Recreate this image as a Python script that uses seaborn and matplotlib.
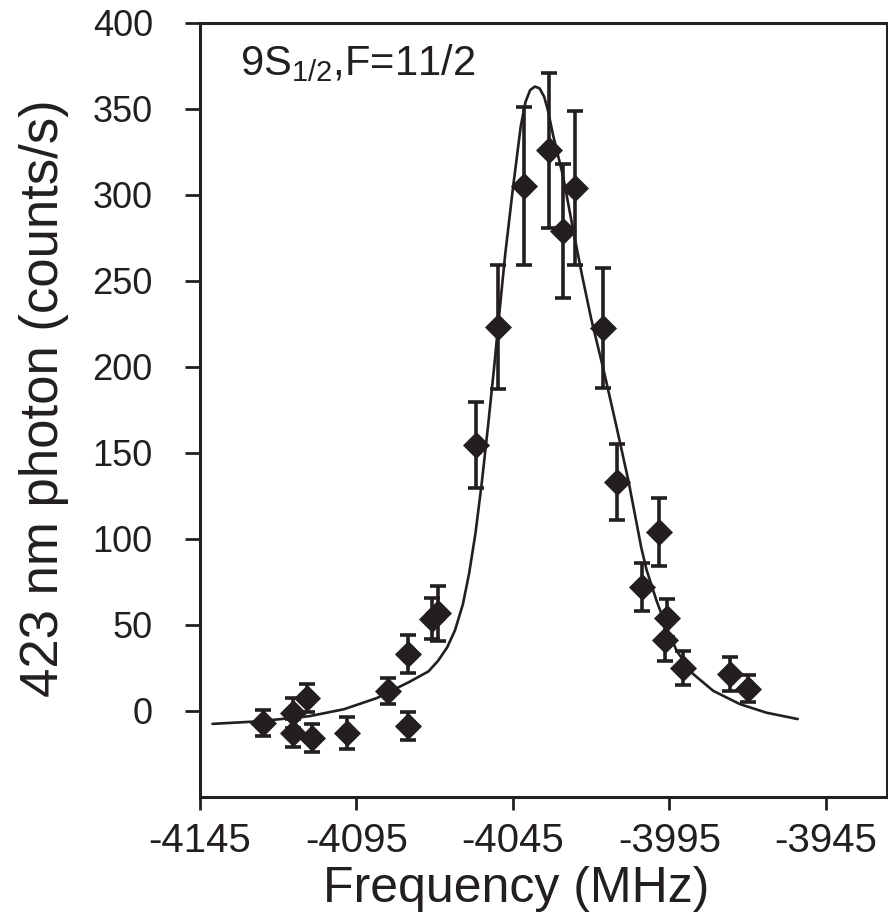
import matplotlib
matplotlib.use('Agg')
import matplotlib.pyplot as plt
import seaborn as sns
import pandas as pd

# measured points: frequency (MHz), rate (counts/s), error
freq = [-4124.9, -4115.3, -4115.3, -4110.8, -4109.2, -4098.0, -4084.9, -4078.5,
        -4078.5, -4070.9, -4069.0, -4056.8, -4049.8, -4041.5, -4033.5, -4029.0,
        -4025.2, -4016.2, -4011.8, -4003.8, -3998.4, -3996.4, -3995.8, -3990.7,
        -3975.7, -3970.0]
rate = [-7.0, -1.2, -12.9, 7.6, -15.8, -12.9, 11.7, 33.3,
        -8.8, 53.7, 56.7, 154.8, 223.0, 305.0, 326.0, 279.0,
        304.0, 222.5, 133.0, 72.0, 104.0, 41.0, 54.0, 25.0,
        21.6, 13.0]
err = [7.6, 8.8, 8.0, 8.0, 8.0, 9.3, 7.6, 11.0,
       8.0, 12.0, 16.0, 25.0, 36.0, 46.0, 45.0, 39.0,
       45.0, 35.0, 22.0, 14.0, 20.0, 12.0, 11.0, 10.0,
       10.0, 8.0]

# fitted line
fit_x = [-4141, -4126, -4110, -4099, -4088.5, -4078, -4072, -4069, -4066, -4063.5,
         -4061, -4059, -4057, -4055, -4053, -4051, -4049.8, -4047.5, -4045, -4042.5,
         -4041, -4039.5, -4038, -4036.5, -4035, -4033.8, -4032.2, -4029, -4026,
         -4023, -4020, -4016, -4012, -4008, -4004, -4002.3, -3999.1, -3996,
         -3992.7, -3987.5, -3981, -3972.5, -3964, -3954]
fit_y = [-7.5, -6, -3, 1, 7.5, 17, 23, 29, 37, 47,
         62, 80, 103, 132, 165, 200, 223, 265, 304, 340,
         354, 361, 363, 362, 357, 349, 335, 311, 282,
         254, 228, 198, 166, 133, 95, 82, 64, 49,
         35, 21.6, 11.7, 4, -1, -4.7]

xticks = [-4145, -4095, -4045, -3995, -3945]
yticks = [0, 50, 100, 150, 200, 250, 300, 350, 400]

pts = pd.DataFrame({'freq': freq, 'rate': rate, 'err': err})
fit = pd.DataFrame({'freq': fit_x, 'rate': fit_y})

ink = '#231f20'
sns.set_style('ticks')
plt.rcParams['font.family'] = ['Liberation Sans', 'DejaVu Sans']
plt.rcParams['axes.unicode_minus'] = False
plt.rcParams['mathtext.fontset'] = 'custom'
plt.rcParams['mathtext.rm'] = 'Liberation Sans'
plt.rcParams['mathtext.it'] = 'Liberation Sans'

fig = plt.figure(figsize=(8.88, 9.22), dpi=100)
ax = fig.add_axes([0.2252, 0.1356, 0.7736, 0.8395])

sns.lineplot(data=fit, x='freq', y='rate', color=ink, linewidth=1.9, ax=ax, sort=False)
ax.errorbar(pts['freq'], pts['rate'], yerr=pts['err'], fmt='none', ecolor=ink,
            elinewidth=2.6, capsize=6, capthick=2.6, zorder=3)
sns.scatterplot(data=pts, x='freq', y='rate', marker='D', s=190, color=ink,
                edgecolor=ink, linewidth=0, ax=ax, zorder=4)

ax.set_xlim(-4145, -3925.5)
ax.set_ylim(-50, 400)
ax.set_xticks(xticks)
ax.set_yticks(yticks)

for s in ax.spines.values():
    s.set_linewidth(2.2)
    s.set_color(ink)

ax.tick_params(axis='y', direction='out', length=11, width=2, color=ink, pad=23,
               labelsize=26, labelcolor=ink)
ax.tick_params(axis='x', direction='out', length=9, width=2, color=ink, pad=9,
               labelsize=29, labelcolor=ink)

ax.set_xlabel('Frequency (MHz)', fontsize=36, color=ink)
ax.set_ylabel('423 nm photon (counts/s)', fontsize=38, color=ink)
ax.xaxis.set_label_coords(0.461, -0.089)
ax.yaxis.set_label_coords(-0.19, 0.515)

ax.text(0.058, 0.933, r'9S$_{\mathregular{1/2}}$,F=11/2', transform=ax.transAxes,
        fontsize=30, color=ink, ha='left', va='baseline')

fig.savefig('out.png', dpi=100)
